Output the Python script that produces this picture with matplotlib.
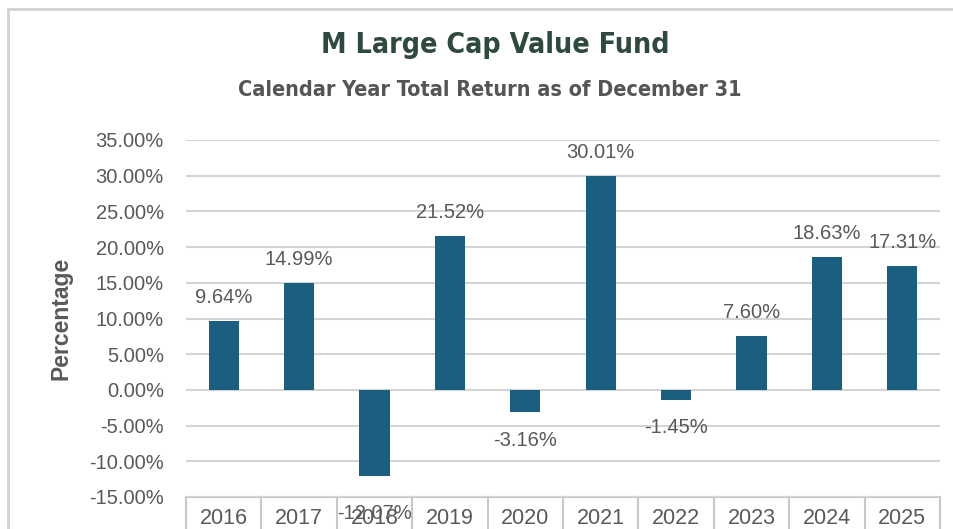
import matplotlib.pyplot as plt
from matplotlib.lines import Line2D
from matplotlib.ticker import FuncFormatter
import matplotlib.transforms as mtransforms

years = ['2016', '2017', '2018', '2019', '2020', '2021', '2022', '2023', '2024', '2025']
returns = [9.64, 14.99, -12.07, 21.52, -3.16, 30.01, -1.45, 7.60, 18.63, 17.31]
y_ticks = [-15, -10, -5, 0, 5, 10, 15, 20, 25, 30, 35]

bar_color = '#1a5e80'
grid_color = '#d4d4d4'
text_gray = '#595959'

plt.rcParams['font.family'] = ['Liberation Sans', 'DejaVu Sans']

fig = plt.figure(figsize=(9.54, 5.29), dpi=100)
fig.patch.set_facecolor('white')

# light frame of the screenshot (top and left only)
fig.lines.append(Line2D([8 / 954, 1], [1 - 9 / 529, 1 - 9 / 529],
                        transform=fig.transFigure, color='#d3d3d3', linewidth=2))
fig.lines.append(Line2D([8 / 954, 8 / 954], [0, 1 - 9 / 529],
                        transform=fig.transFigure, color='#d3d3d3', linewidth=2))

ax = fig.add_axes([186 / 954, 1 - 497 / 529, 754 / 954, 357 / 529])

x = range(len(years))
bars = ax.bar(x, returns, width=0.4, color=bar_color, zorder=3)

ax.set_xlim(-0.5, len(years) - 0.5)
ax.set_ylim(-15, 35)
ax.set_yticks(y_ticks)
ax.yaxis.set_major_formatter(FuncFormatter(lambda v, p: f'{v:.2f}%'))
ax.grid(axis='y', color=grid_color, linewidth=1.5, zorder=0)
ax.tick_params(axis='y', length=0, pad=16, labelsize=14.5, labelcolor=text_gray)

for s in ['top', 'right', 'left', 'bottom']:
    ax.spines[s].set_visible(False)

# category table below the plot
ax.set_xticks(list(x))
ax.set_xticklabels(years)
ax.tick_params(axis='x', length=0, pad=8, labelsize=15.5, labelcolor=text_gray)
trans = mtransforms.blended_transform_factory(ax.transData, ax.transAxes)
for b in [i - 0.5 for i in range(len(years) + 1)]:
    ax.plot([b, b], [0, -0.2], transform=trans, color='#c8c8c8',
            linewidth=1.5, clip_on=False, zorder=1)
ax.plot([-0.5, len(years) - 0.5], [0, 0], transform=trans, color='#c8c8c8',
        linewidth=1.5, clip_on=False, zorder=1)

# data labels (2018 label sits lower, overlapping the table as in Excel)
for i, v in enumerate(returns):
    if v >= 0:
        ax.annotate(f'{v:.2f}%', (i, v), xytext=(0, 10), textcoords='offset points',
                    ha='center', va='bottom', fontsize=14.5, color=text_gray, zorder=4)
    else:
        dy = -20 if v < -10 else -13
        ax.annotate(f'{v:.2f}%', (i, v), xytext=(0, dy), textcoords='offset points',
                    ha='center', va='top', fontsize=14.5, color=text_gray, zorder=4)

fig.text(61 / 954, 1 - 318 / 529, 'Percentage', rotation=90, ha='center', va='center',
         fontsize=16.5, fontweight='bold', color=text_gray)

fig.text(495 / 954, 1 - 45 / 529, 'M Large Cap Value Fund', ha='center', va='center',
         fontsize=20.5, fontweight='bold', color='#2e4a3c',
         family='DejaVu Sans', fontstretch='condensed')
fig.text(490 / 954, 1 - 90 / 529, 'Calendar Year Total Return as of December 31',
         ha='center', va='center', fontsize=15.5, fontweight='bold', color='#555555',
         family='DejaVu Sans', fontstretch='condensed')

fig.savefig('out.png', dpi=100)
